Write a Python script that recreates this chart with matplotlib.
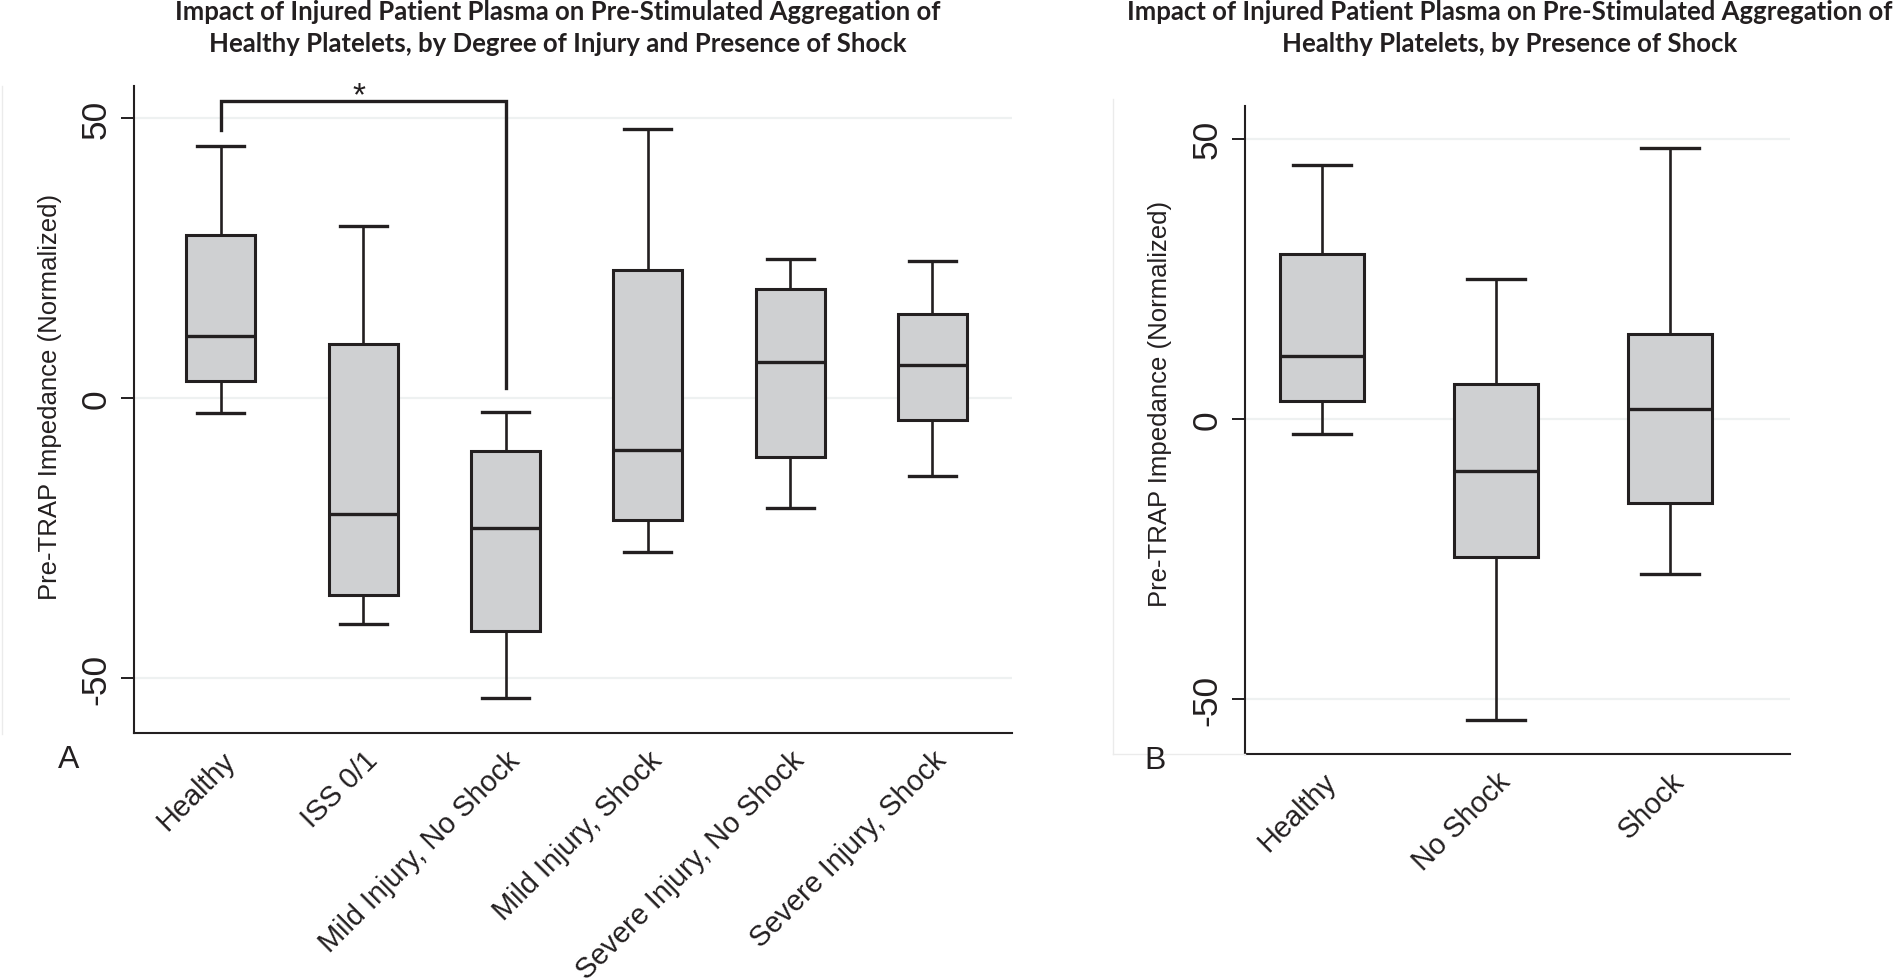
import matplotlib
matplotlib.use("Agg")
import matplotlib.pyplot as plt
from matplotlib.lines import Line2D

# ---------------- data ----------------
cats_a = ["Healthy", "ISS 0/1", "Mild Injury, No Shock", "Mild Injury, Shock",
          "Severe Injury, No Shock", "Severe Injury, Shock"]
whislo_a = [-2.7, -40.4, -53.5, -27.5, -19.6, -13.9]
q1_a = [3.1, -35.2, -41.5, -21.8, -10.4, -3.9]
med_a = [11.1, -20.6, -23.1, -9.2, 6.5, 5.9]
q3_a = [29.2, 9.7, -9.5, 22.9, 19.6, 15.1]
whishi_a = [45.0, 30.8, -2.5, 48.1, 24.9, 24.6]

cats_b = ["Healthy", "No Shock", "Shock"]
whislo_b = [-2.7, -53.8, -27.7]
q1_b = [3.1, -24.7, -15.1]
med_b = [11.2, -9.3, 1.8]
q3_b = [29.4, 6.2, 15.2]
whishi_b = [45.2, 25.0, 48.3]

yticks = [-50, 0, 50]
ylim = (-59.8, 55.8)

# significance bracket (panel A): Healthy vs Mild Injury, No Shock
sig_pair = (0, 2)
sig_left_start = 48.0
sig_top = 53.1
sig_right_end = 1.8
sig_label = "*"

title_a = ["Impact of Injured Patient Plasma on Pre-Stimulated Aggregation of",
           "Healthy Platelets, by Degree of Injury and Presence of Shock"]
title_b = ["Impact of Injured Patient Plasma on Pre-Stimulated Aggregation of",
           "Healthy Platelets, by Presence of Shock"]
ylabel = "Pre-TRAP Impedance (Normalized)"

# ---------------- style ----------------
DARK = "#231f20"
FILL = "#cfd0d2"
GRID = "#eef1f1"
SANS = ["Liberation Sans", "DejaVu Sans"]
TFONT = ["Lato", "DejaVu Sans"]

W, H = 1901, 979
fig = plt.figure(figsize=(W / 100, H / 100), dpi=100)
fig.patch.set_facecolor("white")


def rect(l, t, r, b):
    return [l / W, 1 - b / H, (r - l) / W, (b - t) / H]


def px(x, y):
    return x / W, 1 - y / H


def draw_panel(ax, cats, lo, q1, med, q3, hi, xlim):
    stats = []
    for i in range(len(cats)):
        stats.append(dict(whislo=lo[i], q1=q1[i], med=med[i], q3=q3[i],
                          whishi=hi[i], fliers=[], label=cats[i]))
    ax.bxp(stats, positions=list(range(len(cats))), widths=0.485,
           showfliers=False, patch_artist=True,
           boxprops=dict(facecolor=FILL, edgecolor=DARK, linewidth=2.2),
           medianprops=dict(color=DARK, linewidth=2.4),
           whiskerprops=dict(color=DARK, linewidth=1.9),
           capprops=dict(color=DARK, linewidth=2.4),
           capwidths=0.33, zorder=3)
    ax.set_xlim(*xlim)
    ax.set_ylim(*ylim)
    for t in yticks:
        ax.axhline(t, color=GRID, lw=1.6, zorder=0)
    for s in ("top", "right"):
        ax.spines[s].set_visible(False)
    for s in ("left", "bottom"):
        ax.spines[s].set_color(DARK)
        ax.spines[s].set_linewidth(1.5)
    ax.set_yticks(yticks)
    ax.set_yticklabels([str(t) for t in yticks], rotation=90, va="center",
                       fontsize=25.5, family=SANS, color=DARK)
    ax.tick_params(axis="y", length=9.5, width=1.4, color=DARK, pad=6)
    ax.set_xticks(list(range(len(cats))))
    ax.set_xticklabels(cats, rotation=45, ha="right", rotation_mode="anchor",
                       fontsize=20.8, family=SANS, color=DARK)
    ax.tick_params(axis="x", length=0, pad=9)


axA = fig.add_axes(rect(134, 87, 1012, 734))
axB = fig.add_axes(rect(1245, 107, 1790, 755))
draw_panel(axA, cats_a, whislo_a, q1_a, med_a, q3_a, whishi_a, (-0.611, 5.559))
draw_panel(axB, cats_b, whislo_b, q1_b, med_b, q3_b, whishi_b, (-0.443, 2.69))

# significance bracket
x0, x1 = sig_pair
axA.plot([x0, x0, x1, x1], [sig_left_start, sig_top, sig_top, sig_right_end],
         color=DARK, lw=2.4, solid_joinstyle="miter", clip_on=False, zorder=4)
axA.text((x0 + x1) / 2 - 0.03, 52.5, sig_label, ha="center", va="baseline",
         fontsize=24, family=SANS, color=DARK)

# y labels
fig.text(*px(50, 397), ylabel, rotation=90, ha="center", va="center",
         fontsize=18.5, family=SANS, color=DARK)
fig.text(*px(1160, 404), ylabel, rotation=90, ha="center", va="center",
         fontsize=18.5, family=SANS, color=DARK)

# panel letters
fig.text(*px(69, 760), "A", ha="center", va="center", fontsize=23,
         family=SANS, color=DARK)
fig.text(*px(1155, 761), "B", ha="center", va="center", fontsize=23,
         family=SANS, color=DARK)

# titles
for cx, lines in ((558, title_a), (1510, title_b)):
    for by, line in zip((20, 51.7), lines):
        fig.text(*px(cx, by), line, ha="center", va="baseline", fontsize=18.5,
                 family=TFONT, weight="bold", color=DARK)

# faint panel frame lines
FR = "#ebebeb"
fig.add_artist(Line2D([2 / W, 2 / W], [1 - 87 / H, 1 - 735 / H], color=FR, lw=1))
fig.add_artist(Line2D([1113 / W, 1113 / W], [1 - 100 / H, 1 - 755 / H], color=FR, lw=1))
fig.add_artist(Line2D([1113 / W, 1245 / W], [1 - 755 / H, 1 - 755 / H], color=FR, lw=1))

fig.savefig("out.png", dpi=100, facecolor="white")
